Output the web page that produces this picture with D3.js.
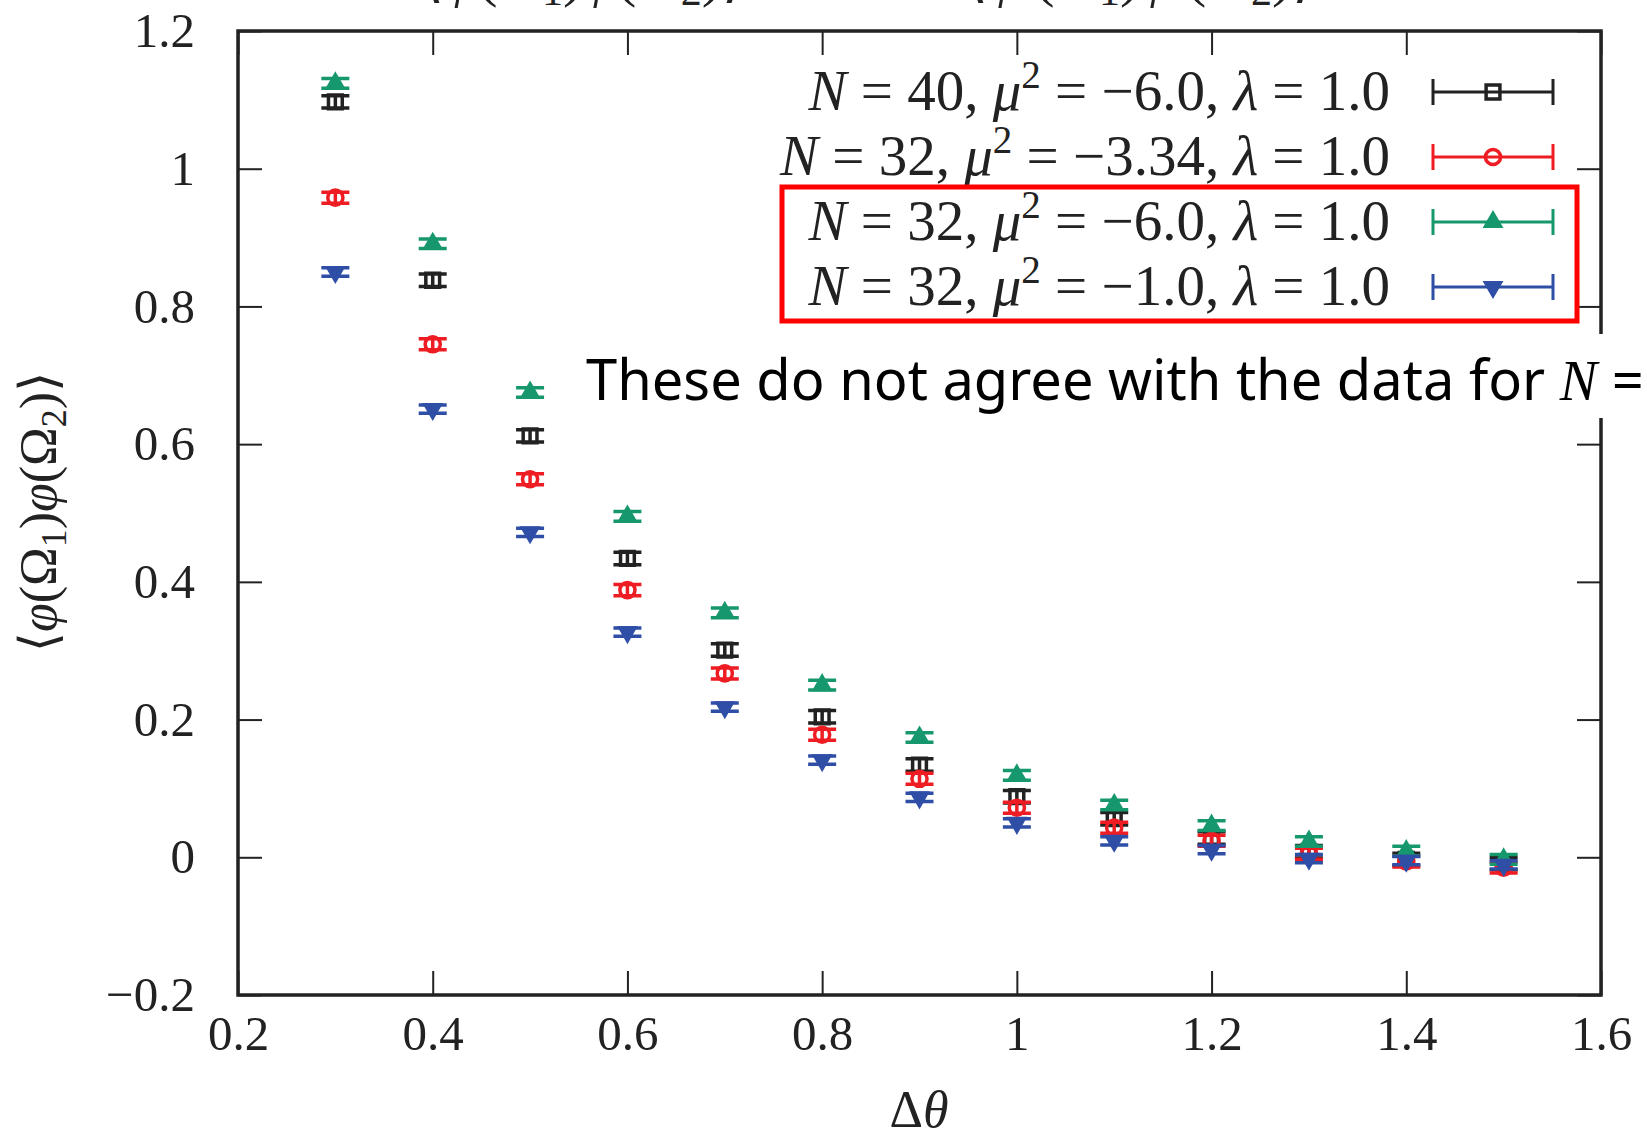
<!DOCTYPE html>
<html lang="en">
<head>
    <meta charset="utf-8">
    <title>Correlation vs angle</title>
    <script type="text/javascript" src="https://d3js.org/d3.v7.min.js"></script>
    <style>
     body { margin: 0; background: white; }
     svg { display: block; }
     .tick text { font-family: "Liberation Serif", "DejaVu Serif", serif; font-size: 49px; fill: #222; }
     .tick line { stroke: #222; stroke-width: 2; }
     .math { font-family: "Liberation Serif", "DejaVu Serif", serif; fill: #222; }
    </style>
</head>
<body>
    <div id="chart"></div>
    <script type="text/javascript">
        // data
        const dtheta = [0.3, 0.4, 0.5, 0.6, 0.7, 0.8, 0.9, 1.0, 1.1, 1.2, 1.3, 1.4, 1.5];

        const n40mu6 = [1.097, 0.838, 0.612, 0.434, 0.301, 0.204, 0.134, 0.088, 0.056, 0.028, 0.008, -0.003, -0.009];
        const n32mu334 = [0.958, 0.745, 0.549, 0.388, 0.267, 0.178, 0.114, 0.072, 0.043, 0.024, 0.005, -0.006, -0.015];
        const n32mu6 = [1.124, 0.891, 0.675, 0.495, 0.355, 0.250, 0.174, 0.119, 0.076, 0.046, 0.023, 0.009, -0.003];
        const n32mu1 = [0.850, 0.651, 0.472, 0.327, 0.218, 0.141, 0.087, 0.050, 0.024, 0.011, -0.002, -0.005, -0.011];

        const errN40mu6 = [0.009, 0.009, 0.009, 0.009, 0.009, 0.009, 0.009, 0.009, 0.009, 0.009, 0.009, 0.009, 0.009];
        const errN32mu334 = [0.008, 0.008, 0.008, 0.008, 0.008, 0.008, 0.008, 0.008, 0.008, 0.008, 0.008, 0.008, 0.008];
        const errN32mu6 = [0.007, 0.007, 0.007, 0.007, 0.007, 0.007, 0.007, 0.007, 0.007, 0.007, 0.007, 0.007, 0.007];
        const errN32mu1 = [0.006, 0.006, 0.006, 0.006, 0.006, 0.006, 0.006, 0.006, 0.006, 0.006, 0.006, 0.006, 0.006];

        const xTicks = [0.2, 0.4, 0.6, 0.8, 1.0, 1.2, 1.4, 1.6];
        const yTicks = [-0.2, 0, 0.2, 0.4, 0.6, 0.8, 1.0, 1.2];

        const legendN = ["40", "32", "32", "32"];
        const legendMu = ["\u22126.0", "\u22123.34", "\u22126.0", "\u22121.0"];
        const legendLambda = ["1.0", "1.0", "1.0", "1.0"];

        const series = [
            {values: n40mu6, errors: errN40mu6, color: "#222222", shape: "square"},
            {values: n32mu334, errors: errN32mu334, color: "#ee1d23", shape: "circle"},
            {values: n32mu6, errors: errN32mu6, color: "#16976d", shape: "triangle"},
            {values: n32mu1, errors: errN32mu1, color: "#2f4ea6", shape: "triangleDown"}
        ];

        const width = 1647;
        const height = 1141;
        const plotLeft = 238, plotRight = 1601, plotTop = 31, plotBottom = 995;

        const svg = d3.select("#chart")
            .append("svg")
            .attr("width", width)
            .attr("height", height);

        const xScale = d3.scaleLinear().domain([0.2, 1.6]).range([plotLeft, plotRight]);
        const yScale = d3.scaleLinear().domain([-0.2, 1.2]).range([plotBottom, plotTop]);
        const fmt = d3.format("~g");

        // axes, ticks pointing inwards
        const tick = 24;
        svg.append("g")
            .attr("transform", "translate(0," + plotBottom + ")")
            .call(d3.axisBottom(xScale).tickValues(xTicks).tickFormat(fmt)
                .tickSizeInner(-tick).tickSizeOuter(0).tickPadding(20))
            .call(g => g.select(".domain").remove());
        svg.append("g")
            .attr("transform", "translate(0," + plotTop + ")")
            .call(d3.axisTop(xScale).tickValues(xTicks).tickFormat("")
                .tickSizeInner(-tick).tickSizeOuter(0))
            .call(g => g.select(".domain").remove());
        svg.append("g")
            .attr("transform", "translate(" + plotLeft + ",0)")
            .call(d3.axisLeft(yScale).tickValues(yTicks).tickFormat(fmt)
                .tickSizeInner(-tick).tickSizeOuter(0).tickPadding(43))
            .call(g => g.select(".domain").remove());
        svg.append("g")
            .attr("transform", "translate(" + plotRight + ",0)")
            .call(d3.axisRight(yScale).tickValues(yTicks).tickFormat("")
                .tickSizeInner(-tick).tickSizeOuter(0))
            .call(g => g.select(".domain").remove());

        svg.append("rect")
            .attr("x", plotLeft).attr("y", plotTop)
            .attr("width", plotRight - plotLeft).attr("height", plotBottom - plotTop)
            .attr("fill", "none")
            .attr("stroke", "#222")
            .attr("stroke-width", 3.5);

        function symbolFor(shape) {
            if (shape === "square") return d3.symbol(d3.symbolSquare, 190)();
            if (shape === "circle") return d3.symbol(d3.symbolCircle, 180)();
            return d3.symbol(d3.symbolTriangle, 95)();
        }

        function drawMarker(g, shape, color) {
            const p = g.append("path")
                .attr("d", symbolFor(shape))
                .attr("stroke", color)
                .attr("stroke-width", 3.5);
            if (shape === "square" || shape === "circle") {
                p.attr("fill", "none");
            } else {
                p.attr("fill", color);
                if (shape === "triangleDown") p.attr("transform", "rotate(180)");
            }
        }

        const capHalf = 14;

        // points with vertical error bars
        series.forEach(s => {
            const pts = svg.append("g").selectAll("g")
                .data(dtheta.map((d, i) => ({x: d, y: s.values[i], e: s.errors[i]})))
                .join("g")
                .attr("transform", d => "translate(" + xScale(d.x) + "," + yScale(d.y) + ")");

            pts.append("path")
                .attr("d", d => {
                    const y0 = yScale(d.y);
                    const a = yScale(d.y + d.e) - y0;
                    const b = yScale(d.y - d.e) - y0;
                    return "M0," + a + "V" + b +
                        "M" + (-capHalf) + "," + a + "H" + capHalf +
                        "M" + (-capHalf) + "," + b + "H" + capHalf;
                })
                .attr("stroke", s.color)
                .attr("stroke-width", 3.5)
                .attr("fill", "none");

            pts.each(function() { drawMarker(d3.select(this), s.shape, s.color); });
        });

        // legend
        const legendY = [92, 157, 222, 287];
        const legendTextRight = 1390;
        const sampleX0 = 1433, sampleX1 = 1553;

        series.forEach((s, i) => {
            const t = svg.append("text")
                .attr("class", "math")
                .attr("x", legendTextRight)
                .attr("y", legendY[i] + 18)
                .attr("text-anchor", "end")
                .style("font-size", "57px");
            t.append("tspan").style("font-style", "italic").text("N");
            t.append("tspan").text(" = " + legendN[i] + ", ");
            t.append("tspan").style("font-style", "italic").text("\u03bc");
            t.append("tspan").attr("dy", -22).style("font-size", "39px").text("2");
            t.append("tspan").attr("dy", 22).text(" = " + legendMu[i] + ", ");
            t.append("tspan").style("font-style", "italic").text("\u03bb");
            t.append("tspan").text(" = " + legendLambda[i]);

            const g = svg.append("g").attr("transform", "translate(0," + legendY[i] + ")");
            g.append("path")
                .attr("d", "M" + sampleX0 + ",0H" + sampleX1 +
                    "M" + sampleX0 + ",-13V13M" + sampleX1 + ",-13V13")
                .attr("stroke", s.color)
                .attr("stroke-width", 3)
                .attr("fill", "none");
            const m = g.append("g").attr("transform", "translate(" + ((sampleX0 + sampleX1) / 2) + ",0)");
            drawMarker(m, s.shape, s.color);
        });

        // red highlight box round the last two legend rows
        svg.append("rect")
            .attr("x", 782).attr("y", 187)
            .attr("width", 795).attr("height", 134)
            .attr("fill", "none")
            .attr("stroke", "#ff0000")
            .attr("stroke-width", 5);

        // annotation on a white strip
        svg.append("rect")
            .attr("x", 576).attr("y", 334)
            .attr("width", 1100).attr("height", 84)
            .attr("fill", "white");
        const note = svg.append("text")
            .attr("x", 586).attr("y", 400)
            .style("font-family", "'Noto Sans', 'DejaVu Sans', sans-serif")
            .style("font-size", "56px")
            .attr("fill", "#000");
        note.append("tspan").text("These do not agree with the data for ");
        note.append("tspan").style("font-family", "'Liberation Serif', serif").style("font-style", "italic").text("N");
        note.append("tspan").text(" =");

        // axis titles
        const yl = svg.append("text")
            .attr("class", "math")
            .attr("transform", "translate(56,512) rotate(-90)")
            .attr("text-anchor", "middle")
            .style("font-size", "52px");
        yl.append("tspan").text("\u27e8");
        yl.append("tspan").style("font-style", "italic").text("\u03c6");
        yl.append("tspan").text("(\u03a9");
        yl.append("tspan").attr("dy", 10).style("font-size", "36px").text("1");
        yl.append("tspan").attr("dy", -10).text(")");
        yl.append("tspan").style("font-style", "italic").text("\u03c6");
        yl.append("tspan").text("(\u03a9");
        yl.append("tspan").attr("dy", 10).style("font-size", "36px").text("2");
        yl.append("tspan").attr("dy", -10).text(")\u27e9");

        const xl = svg.append("text")
            .attr("class", "math")
            .attr("x", 919).attr("y", 1127)
            .attr("text-anchor", "middle")
            .style("font-size", "52px");
        xl.append("tspan").text("\u0394");
        xl.append("tspan").style("font-style", "italic").text("\u03b8");

        // title, mostly above the visible area
        const titles = [{x: 583, prime: ""}, {x: 1140, prime: "\u2032"}];
        titles.forEach(tt => {
            const t = svg.append("text")
                .attr("class", "math")
                .attr("x", tt.x).attr("y", -5)
                .attr("text-anchor", "middle")
                .style("font-size", "60px");
            t.append("tspan").text("\u27e8");
            t.append("tspan").style("font-style", "italic").text("\u03c6" + tt.prime);
            t.append("tspan").text("(\u03a9");
            t.append("tspan").attr("dy", 10).style("font-size", "42px").text("1");
            t.append("tspan").attr("dy", -10).text(")");
            t.append("tspan").style("font-style", "italic").text("\u03c6" + tt.prime);
            t.append("tspan").text("(\u03a9");
            t.append("tspan").attr("dy", 10).style("font-size", "42px").text("2");
            t.append("tspan").attr("dy", -10).text(")\u27e9");
        });
    </script>
</body>
</html>
